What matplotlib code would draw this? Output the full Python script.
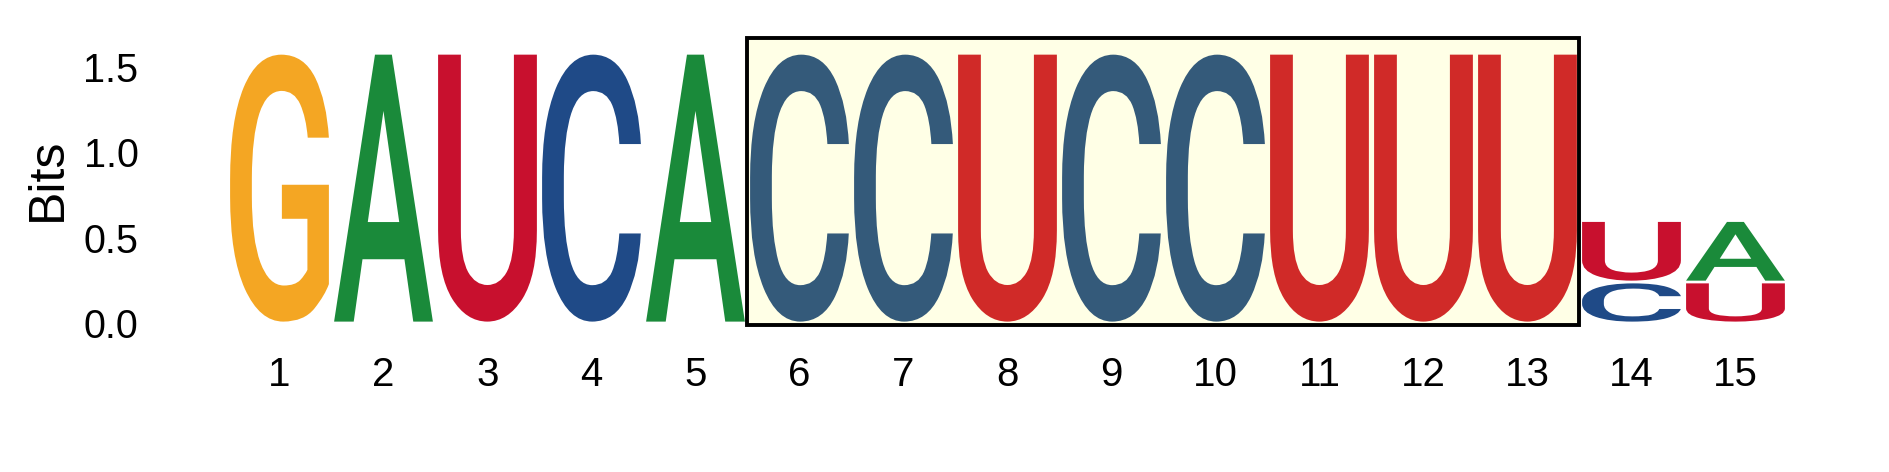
import numpy as np
import matplotlib
matplotlib.use("Agg")
import matplotlib.pyplot as plt
from matplotlib.textpath import TextPath
from matplotlib.patches import PathPatch, Rectangle
from matplotlib.font_manager import FontProperties
from matplotlib.transforms import Affine2D

# letter heights (bits) per position, stacked bottom -> top
positions = list(range(1, 16))
stacks = [
    [("G", 1.58)],
    [("A", 1.58)],
    [("U", 1.58)],
    [("C", 1.58)],
    [("A", 1.58)],
    [("C", 1.58)],
    [("C", 1.58)],
    [("U", 1.58)],
    [("C", 1.58)],
    [("C", 1.58)],
    [("U", 1.58)],
    [("U", 1.58)],
    [("U", 1.58)],
    [("C", 0.24), ("U", 0.36)],
    [("U", 0.24), ("A", 0.36)],
]
highlight = (6, 13)

colors = {"G": "#F4A623", "A": "#1A8A3A", "U": "#C8102E", "C": "#1F4A87"}
colors_hl = {"G": "#F4A623", "A": "#1A8A3A", "U": "#D02A28", "C": "#345A7A"}

glyph_font = FontProperties(family="Roboto", weight=500)
plt.rcParams["font.family"] = "Liberation Sans"

fig = plt.figure(figsize=(18.89, 4.72), dpi=100)
ax = fig.add_axes([0.12043, 0.3085, 0.82583, 0.6220])
ax.set_xlim(0.5, 15.5)
ax.set_ylim(-0.02, 1.7)


def draw_letter(ax, ch, x, y0, h, color, width=0.95, pad=0.008):
    tp = TextPath((0, 0), ch, size=1, prop=glyph_font)
    ext = tp.get_extents()
    tr = (Affine2D()
          .translate(-ext.x0, -ext.y0)
          .scale(width / ext.width, (h - 2 * pad) / ext.height)
          .translate(x - width / 2, y0 + pad))
    path = tr.transform_path(tp)
    ax.add_patch(PathPatch(path, facecolor=color, edgecolor="none", zorder=3))


for pos, stack in zip(positions, stacks):
    in_hl = highlight[0] <= pos <= highlight[1]
    cmap = colors_hl if in_hl else colors
    y = 0.0
    for ch, h in stack:
        draw_letter(ax, ch, pos, y, h, cmap[ch])
        y += h

# highlighted window
ax.add_patch(Rectangle((highlight[0] - 0.5, -0.012), highlight[1] - highlight[0] + 1, 1.682,
                       facecolor="#FFFFE6", edgecolor="black", lw=2.8, zorder=1, clip_on=False))

for s in ax.spines.values():
    s.set_visible(False)
ax.set_xticks(positions)
ax.set_xticklabels([str(p) for p in positions])
ax.set_yticks([0.0, 0.5, 1.0, 1.5])
ax.set_yticklabels(["0.0", "0.5", "1.0", "1.5"])
ax.tick_params(axis="x", length=0, pad=21, labelsize=29)
ax.tick_params(axis="y", length=0, pad=64, labelsize=28.5)
ax.set_ylabel("Bits", fontsize=36)
ax.yaxis.set_label_coords(-0.1003, 0.5)

fig.savefig("out.png", dpi=100)
